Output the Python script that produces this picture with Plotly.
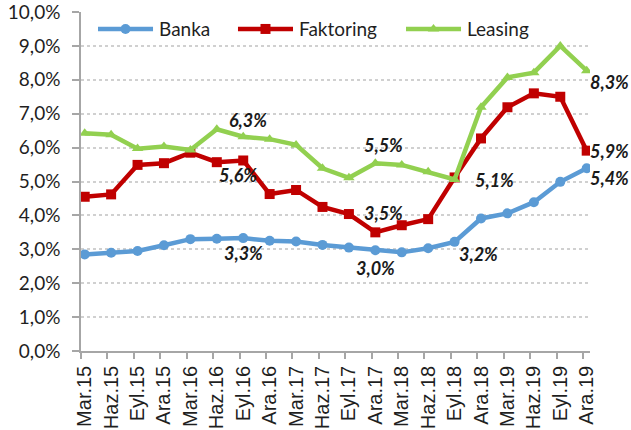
import plotly.graph_objects as go

categories = ["Mar.15", "Haz.15", "Eyl.15", "Ara.15", "Mar.16", "Haz.16", "Eyl.16", "Ara.16",
              "Mar.17", "Haz.17", "Eyl.17", "Ara.17", "Mar.18", "Haz.18", "Eyl.18", "Ara.18",
              "Mar.19", "Haz.19", "Eyl.19", "Ara.19"]

banka = [2.85, 2.90, 2.95, 3.12, 3.30, 3.31, 3.33, 3.25, 3.23, 3.13, 3.05, 2.97, 2.91, 3.03, 3.22,
         3.91, 4.06, 4.39, 4.99, 5.39]
faktoring = [4.55, 4.62, 5.49, 5.54, 5.85, 5.57, 5.62, 4.63, 4.75, 4.25, 4.04, 3.50, 3.71, 3.89, 5.12,
             6.27, 7.19, 7.60, 7.50, 5.91]
leasing = [6.42, 6.38, 5.97, 6.03, 5.93, 6.54, 6.32, 6.25, 6.08, 5.39, 5.11, 5.54, 5.49, 5.29, 5.06,
           7.19, 8.07, 8.21, 9.00, 8.27]

series_names = ["Banka", "Faktoring", "Leasing"]
colors = ["#5B9BD5", "#C00000", "#92D050"]
symbols = ["circle", "square", "triangle-up"]

# labelled points: (series index, category index, xshift, yshift)
labels = [
    (0, 6, 0, -15), (0, 11, 0, -18), (0, 14, 24, -12), (0, 19, 23, -10),
    (1, 6, -5, -15), (1, 11, 8, 19), (1, 19, 23, 0),
    (2, 6, 5, 17),  (2, 11, 8, 18),  (2, 14, 40, -1), (2, 19, 23, -11),
]

all_series = [banka, faktoring, leasing]
xi = list(range(len(categories)))

fig = go.Figure()
for name, vals, col, sym in zip(series_names, all_series, colors, symbols):
    fig.add_trace(go.Scatter(
        x=xi, y=vals, mode="lines+markers", name=name,
        line=dict(color=col, width=4.5),
        marker=dict(color=col, symbol=sym, size=10),
        showlegend=False, hoverinfo="skip"))

# custom legend drawn on overlay axes (paper-like 0..1)
leg_x0 = [0.0334, 0.3084, 0.6385]
leg_len = 0.1081
leg_y = 0.950
for name, col, sym, x0 in zip(series_names, colors, symbols, leg_x0):
    fig.add_trace(go.Scatter(
        x=[x0, x0 + leg_len / 2, x0 + leg_len], y=[leg_y] * 3, mode="lines",
        line=dict(color=col, width=4.5), xaxis="x2", yaxis="y2",
        showlegend=False, hoverinfo="skip"))
    fig.add_trace(go.Scatter(
        x=[x0 + leg_len / 2], y=[leg_y], mode="markers",
        marker=dict(color=col, symbol=sym, size=10), xaxis="x2", yaxis="y2",
        showlegend=False, hoverinfo="skip"))
    fig.add_annotation(x=x0 + leg_len + 0.007, y=leg_y, xref="x2", yref="y2",
                       text=name, showarrow=False, xanchor="left", yanchor="middle",
                       font=dict(family="Lato", size=19, color="#1f1f1f"))

for si, ci, dx, dy in labels:
    v = all_series[si][ci]
    txt = f"{v:.1f}%".replace(".", ",")
    fig.add_annotation(x=ci, y=v, text=f"<b><i>{txt}</i></b>", showarrow=False,
                       xshift=dx, yshift=dy, xanchor="center", yanchor="middle",
                       borderpad=0,
                       font=dict(family="Lato", size=18, color="#1a1a1a"))

fig.update_layout(
    width=631, height=430,
    margin=dict(l=81, r=41, t=12, b=79, autoexpand=False),
    paper_bgcolor="white", plot_bgcolor="white",
    separators=",.",
    showlegend=False,
    xaxis=dict(
        range=[-0.14, 19.125], tickmode="array", tickvals=xi, ticktext=categories,
        tickangle=-90, tickfont=dict(family="Liberation Sans", size=20, color="#1f1f1f"),
        showgrid=False, showline=True, linecolor="#a6a6a6", linewidth=1.5,
        ticks="", ticklabelstandoff=5,
        minor=dict(tickvals=[i - 0.14 for i in xi], ticks="outside", ticklen=6,
                   tickcolor="#a6a6a6", tickwidth=1.5, showgrid=False),
        zeroline=False, automargin=False, ticklabeloverflow="allow"),
    yaxis=dict(
        range=[0, 10], dtick=1, tickformat=".1f", ticksuffix="%",
        tickfont=dict(family="Lato", size=19, color="#1f1f1f"),
        showgrid=True, gridcolor="#d0d0d0", griddash="dot", gridwidth=1.5,
        showline=True, linecolor="#a6a6a6", linewidth=1.5,
        ticks="outside", ticklen=7, tickcolor="#a6a6a6", tickwidth=1.5,
        ticklabelstandoff=8,
        zeroline=False, automargin=False, ticklabeloverflow="allow"),
    xaxis2=dict(range=[0, 1], overlaying="x", visible=False, fixedrange=True),
    yaxis2=dict(range=[0, 1], overlaying="y", visible=False, fixedrange=True),
)

fig.write_html("out.html", config={"displayModeBar": False},
               post_script="document.body.style.margin='0';")
